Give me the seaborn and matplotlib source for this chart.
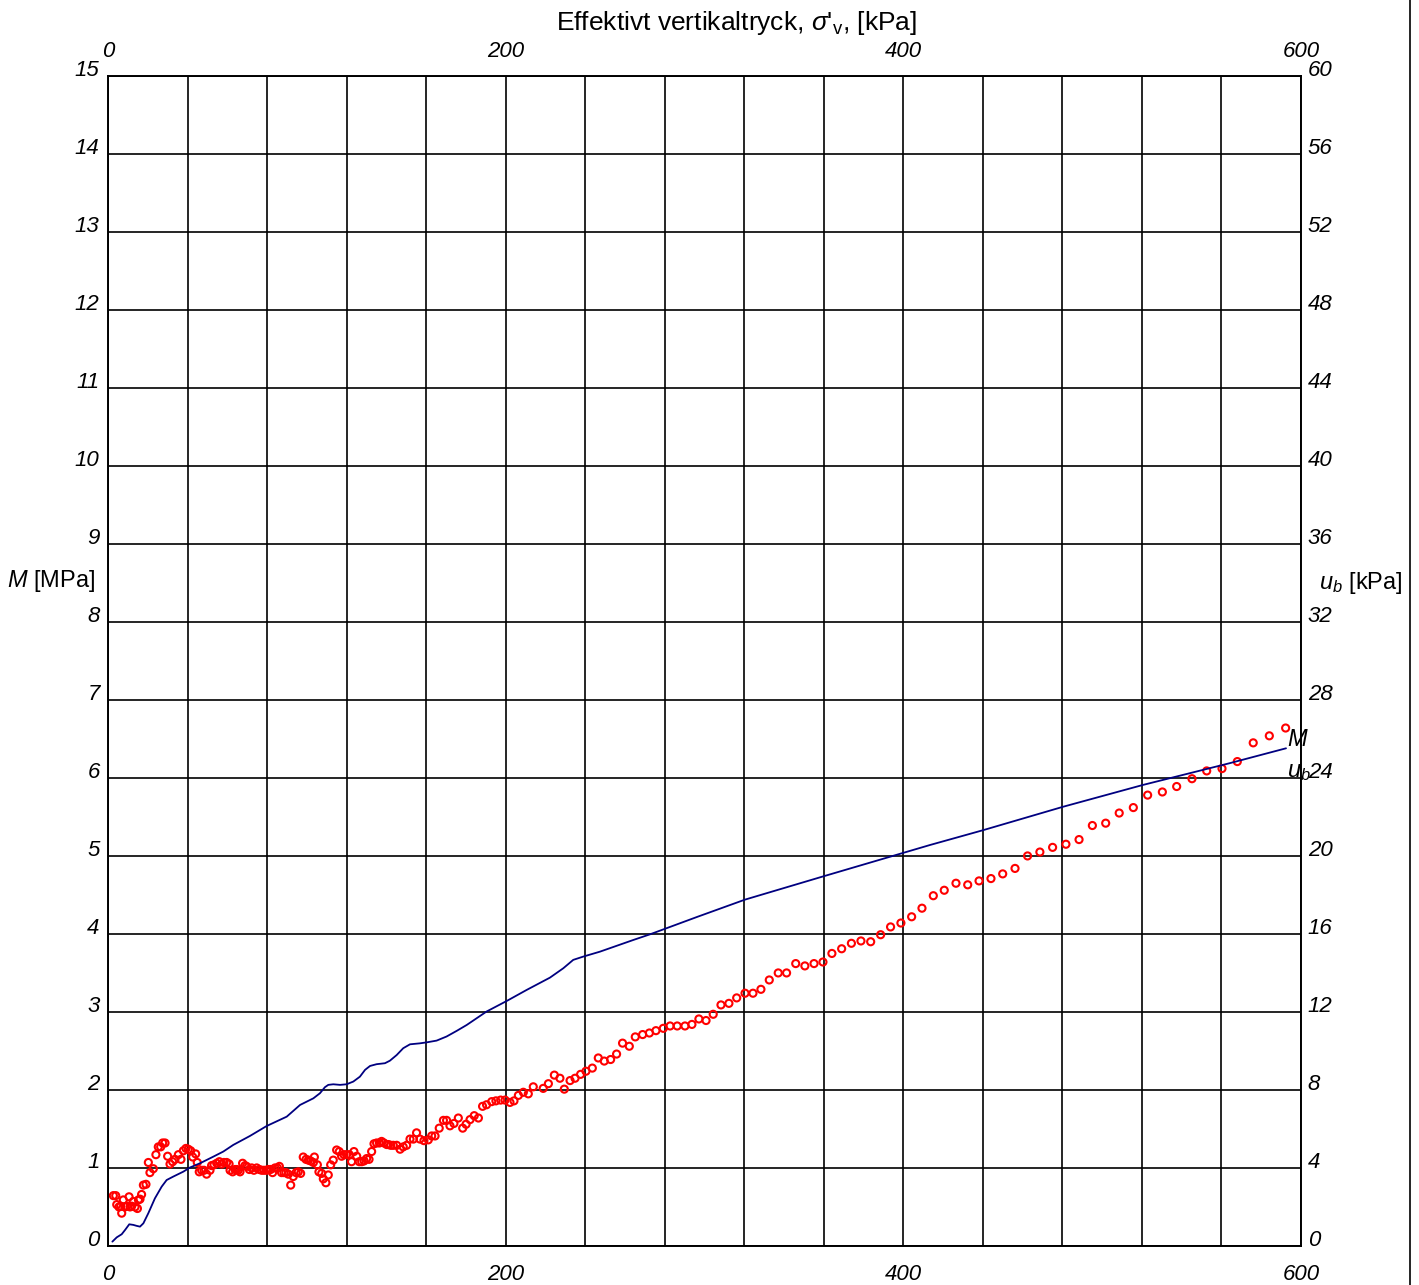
import numpy as np
import pandas as pd
import seaborn as sns
import matplotlib.pyplot as plt
from matplotlib.lines import Line2D
from matplotlib.ticker import MultipleLocator

# M [MPa] vs effective vertical stress (red circles)
sigma_m = [2.7, 3.9, 4.4, 5.5, 6.4, 6.9, 7.7, 8.5, 9.4, 10.6, 11.1, 11.9, 12.7, 13.6, 14.8,
           15.3, 16.1, 16.9, 17.8, 19.1, 20.3, 21.1, 22.8, 24.1, 25.3, 26.5, 27.5, 28.7, 30.0,
           31.2, 32.5, 33.7, 35.4, 36.7, 37.9, 39.2, 40.4, 41.6, 42.6, 44.1, 44.9, 45.9, 47.1,
           48.3, 49.6, 51.3, 52.1, 53.3, 54.7, 56.0, 57.2, 58.3, 59.7, 60.9, 61.4, 62.7, 63.9,
           64.7, 65.5, 66.4, 67.7, 68.9, 69.7, 71.1, 72.3, 73.4, 74.8, 76.1, 77.3, 78.5, 79.8,
           80.6, 81.8, 82.8, 84.0, 85.2, 86.2, 87.3, 88.5, 89.5, 90.7, 91.9, 93.2, 94.6, 95.7,
           96.9, 98.2, 99.6, 100.8, 101.9, 103.3, 103.8, 105.3, 106.1, 107.5, 108.3, 109.6,
           110.8, 112.0, 113.3, 115.0, 116.3, 117.5, 118.7, 120.0, 121.4, 122.5, 123.7, 125.1,
           126.4, 127.6, 128.8, 130.1, 131.3, 132.6, 133.8, 135.1, 136.5, 137.6, 138.8, 140.2,
           141.0, 142.2, 143.5, 145.2, 146.9, 148.5, 150.2, 151.9, 153.6, 155.2, 156.9, 158.9,
           161.1, 162.8, 164.5, 166.6, 168.7, 170.3, 172.0, 174.0, 176.2, 178.4, 180.1, 182.1,
           184.2, 186.3, 188.4, 190.4, 193.0, 195.1, 197.5, 199.7, 202.2, 204.2, 206.4, 208.9,
           211.4, 213.9, 218.9, 221.5, 224.5, 227.3, 229.5, 232.4, 234.9, 237.7, 240.4, 243.6,
           246.6, 249.6, 252.8, 255.8, 258.8, 262.2, 265.2, 268.9, 272.3, 275.6, 279.3, 282.7,
           286.3, 290.2, 293.7, 297.2, 300.8, 304.4, 308.3, 312.3, 316.2, 320.4, 324.4, 328.4,
           332.6, 337.1, 341.3, 345.9, 350.5, 355.1, 359.6, 364.1, 369.0, 373.9, 378.7, 383.6,
           388.6, 393.6, 398.8, 404.2, 409.4, 415.1, 420.6, 426.5, 432.4, 438.1, 444.1, 450.0,
           456.2, 462.5, 468.7, 475.1, 481.8, 488.4, 495.1, 501.8, 508.6, 515.7, 522.9, 530.3,
           537.5, 545.2, 552.6, 560.3, 568.0, 576.0, 584.1, 592.3]
M_vals = [0.645, 0.645, 0.53, 0.50, 0.51, 0.42, 0.59, 0.50, 0.51, 0.63, 0.50, 0.51, 0.57, 0.50, 0.48,
          0.59, 0.60, 0.66, 0.78, 0.79, 1.07, 0.94, 0.99, 1.17, 1.27, 1.27, 1.32, 1.32, 1.15,
          1.05, 1.08, 1.11, 1.17, 1.11, 1.22, 1.25, 1.24, 1.22, 1.14, 1.18, 1.07, 0.95, 0.97,
          0.97, 0.92, 0.97, 1.03, 1.04, 1.06, 1.08, 1.05, 1.07, 1.07, 1.05, 0.97, 0.95, 0.98,
          0.98, 0.97, 0.95, 1.06, 1.03, 1.02, 0.98, 1.00, 0.97, 1.00, 0.98, 0.97, 0.97, 0.97,
          0.98, 0.98, 0.94, 1.00, 1.00, 1.02, 0.94, 0.94, 0.94, 0.92, 0.78, 0.89, 0.94, 0.95,
          0.93, 1.14, 1.11, 1.10, 1.09, 1.07, 1.14, 1.04, 0.95, 0.93, 0.86, 0.81,
          0.91, 1.04, 1.10, 1.23, 1.21, 1.15, 1.17, 1.17, 1.17, 1.08, 1.21, 1.15,
          1.08, 1.08, 1.09, 1.12, 1.11, 1.21, 1.31, 1.32, 1.32, 1.34, 1.32, 1.30,
          1.30, 1.29, 1.29, 1.29, 1.24, 1.27, 1.29, 1.37, 1.37, 1.45, 1.37, 1.35,
          1.36, 1.41, 1.41, 1.51, 1.61, 1.61, 1.54, 1.57, 1.64, 1.51, 1.56, 1.62,
          1.67, 1.64, 1.79, 1.81, 1.85, 1.86, 1.87, 1.87, 1.84, 1.86, 1.93, 1.97,
          1.95, 2.04, 2.02, 2.08, 2.19, 2.15, 2.01, 2.12, 2.15, 2.20, 2.24, 2.28,
          2.41, 2.37, 2.39, 2.46, 2.60, 2.56, 2.68, 2.71, 2.73, 2.76, 2.79, 2.82,
          2.82, 2.82, 2.84, 2.91, 2.89, 2.97, 3.09, 3.11, 3.18, 3.24, 3.24, 3.29,
          3.41, 3.50, 3.50, 3.62, 3.59, 3.62, 3.64, 3.75, 3.81, 3.88, 3.91, 3.90,
          3.99, 4.09, 4.14, 4.22, 4.33, 4.49, 4.56, 4.65, 4.63, 4.68, 4.71, 4.77,
          4.84, 5.00, 5.05, 5.11, 5.15, 5.21, 5.39, 5.42, 5.55, 5.62, 5.78, 5.82,
          5.89, 5.99, 6.09, 6.12, 6.21, 6.45, 6.54, 6.64]

# u_b [kPa] vs effective vertical stress (blue line)
sigma_u = [2.2, 4.4, 6.9, 8.6, 10.7, 12.7, 14.4, 16.1, 17.8, 20.3, 23.6, 27.0, 29.5, 32.9,
           37.9, 41.2, 46.3, 53.0, 58.0, 63.0, 71.4, 79.8, 89.9, 96.6, 103.3, 106.6, 109.1,
           110.8, 113.3, 116.7, 120.0, 123.4, 126.7, 129.3, 131.8, 135.1, 139.3, 141.8, 145.2,
           148.5, 151.9, 156.9, 160.3, 165.3, 170.3, 175.4, 180.4, 190.4, 200.5, 210.6, 222.3,
           229.0, 234.0, 239.1, 247.4, 264.2, 272.6, 296.5, 320.4, 360.0, 413.4, 440.1, 480.3,
           520.5, 564.3, 592.5]
ub_vals = [0.22, 0.44, 0.60, 0.82, 1.11, 1.08, 1.03, 0.99, 1.16, 1.68, 2.44, 3.04, 3.38, 3.56,
           3.81, 4.02, 4.24, 4.58, 4.84, 5.18, 5.64, 6.15, 6.63, 7.23, 7.57, 7.83, 8.14,
           8.26, 8.29, 8.26, 8.29, 8.43, 8.68, 9.03, 9.23, 9.32, 9.37, 9.50, 9.79,
           10.14, 10.34, 10.39, 10.44, 10.53, 10.74, 11.03, 11.33, 12.02, 12.56, 13.13, 13.76,
           14.24, 14.67, 14.84, 15.09, 15.69, 15.98, 16.88, 17.76, 18.96, 20.56, 21.32, 22.52,
           23.64, 24.76, 25.52]

x_ticks = [0, 200, 400, 600]

df_m = pd.DataFrame({"sigma": sigma_m, "M": M_vals})
df_u = pd.DataFrame({"sigma": sigma_u, "ub": ub_vals})

sns.set_style("white")
plt.rcParams["font.family"] = ["Liberation Sans", "DejaVu Sans"]
plt.rcParams["mathtext.fontset"] = "custom"
plt.rcParams["mathtext.rm"] = "Liberation Sans"
plt.rcParams["mathtext.it"] = "Liberation Sans:italic"
plt.rcParams["text.color"] = "black"
plt.rcParams["xtick.color"] = "black"
plt.rcParams["ytick.color"] = "black"
plt.rcParams["axes.labelcolor"] = "black"

fig = plt.figure(figsize=(14.19, 12.85), dpi=100)
ax = fig.add_axes([0.0761, 0.0304, 0.8407, 0.9105])
ax2 = ax.twinx()

sns.scatterplot(data=df_m, x="sigma", y="M", ax=ax, marker="o", s=26,
                facecolor="none", edgecolor="red", linewidth=1.5, zorder=3)
sns.lineplot(data=df_u, x="sigma", y="ub", ax=ax2, color="#000080", linewidth=1.3,
             sort=False, estimator=None)

ax.set_xlim(0, 600)
ax.set_ylim(0, 15)
ax2.set_ylim(0, 60)

ax.set_xticks(x_ticks)
ax.xaxis.set_minor_locator(MultipleLocator(40))
ax.yaxis.set_major_locator(MultipleLocator(1))
ax2.yaxis.set_major_locator(MultipleLocator(4))

ax.grid(True, which="both", axis="x", color="black", linewidth=1.2)
ax.grid(True, which="major", axis="y", color="black", linewidth=1.2)
ax2.grid(False)

for a in (ax, ax2):
    for sp in a.spines.values():
        sp.set_color("black")
        sp.set_linewidth(1.2)

ax.tick_params(axis="x", which="both", length=0, labelsize=16, pad=13)
ax.tick_params(axis="y", length=0, labelsize=16, pad=6)
ax2.tick_params(axis="y", length=0, labelsize=16, pad=5)

# top scale of the same stress axis
top = ax.secondary_xaxis("top")
top.set_xticks(x_ticks)
top.tick_params(axis="x", length=0, labelsize=16, pad=10, colors="black")
top.spines["top"].set_visible(False)

for t in ax.get_xticklabels() + top.get_xticklabels():
    t.set_fontstyle("italic")
for t in ax.get_yticklabels() + ax2.get_yticklabels():
    t.set_fontstyle("italic")
    t.set_verticalalignment("baseline")

ax.set_xlabel("")
ax.set_ylabel("")
ax2.set_ylabel("")

ax.text(593, 6.49, "M", fontsize=17, style="italic", ha="left", va="center")
ax.text(593, 6.08, "$u_b$", fontsize=17, ha="left", va="center")

fig.text(0.519, 0.982, "Effektivt vertikaltryck, $\\sigma$'$_\\mathrm{v}$, [kPa]",
         fontsize=19, ha="center", va="center")
fig.text(0.036, 0.548, "$M$ [MPa]", fontsize=17, ha="center", va="center")
fig.text(0.9587, 0.546, "$u_b$ [kPa]", fontsize=17, ha="center", va="center")

fig.add_artist(Line2D([0.9937, 0.9937], [0, 1], color="black", linewidth=1.2))

fig.savefig("out.png", dpi=100, facecolor="white")
